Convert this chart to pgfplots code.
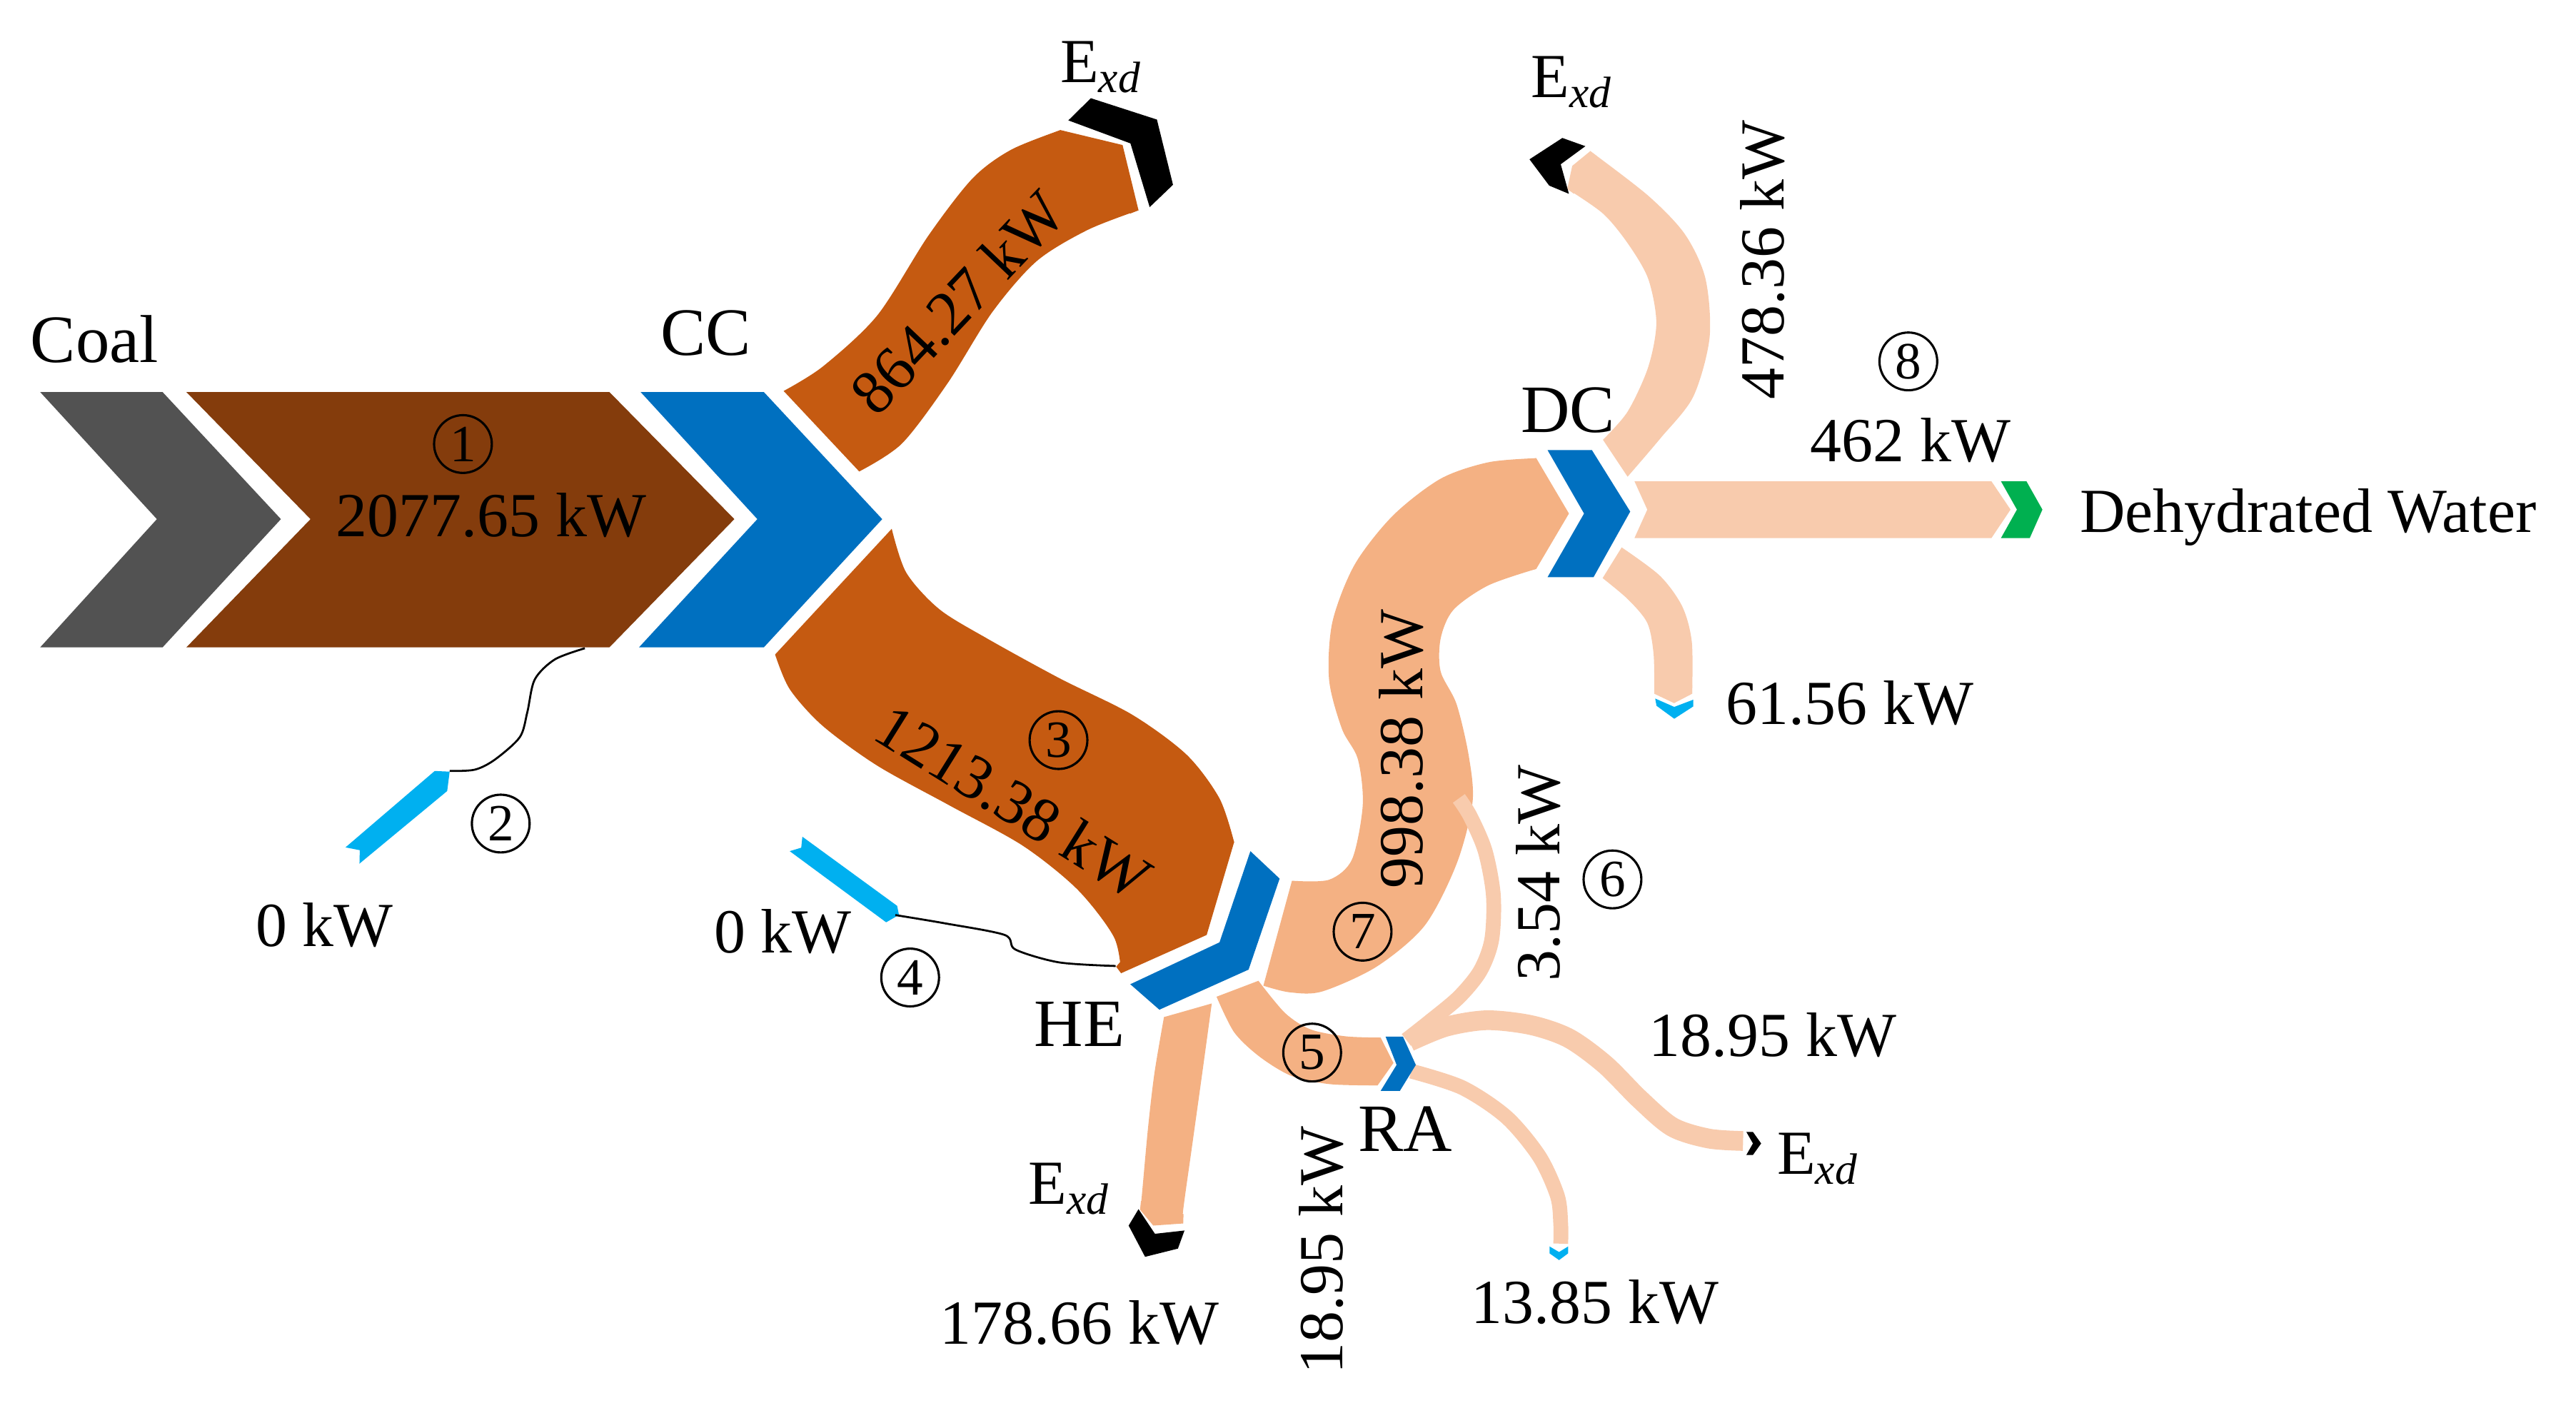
\documentclass[border=0pt]{standalone}
\usepackage{pgfplots}
\pgfplotsset{compat=1.18}
\usepgfplotslibrary{fillbetween}
\usepackage{fontspec}
\setmainfont{Liberation Serif}
\definecolor{cgray}{HTML}{525252}
\definecolor{cbrown}{HTML}{843C0C}
\definecolor{corange}{HTML}{C55A11}
\definecolor{cblue}{HTML}{0070C0}
\definecolor{cpeach}{HTML}{F4B183}
\definecolor{clpeach}{HTML}{F8CBAD}
\definecolor{clblue}{HTML}{00B0F0}
\definecolor{cgreen}{HTML}{00B050}
\tikzset{
 lab/.style={font=\fontsize{12.6}{15}\selectfont, inner sep=0pt, outer sep=0pt},
 nd/.style={font=\fontsize{13.6}{16}\selectfont, inner sep=0pt, outer sep=0pt},
 cn/.style={circle, draw, line width=0.45pt, minimum size=11.6pt, inner sep=0pt, font=\fontsize{10.5}{11}\selectfont},
}
\newcommand{\Exd}{E\textsubscript{\textit{xd}}}
\begin{document}
\begin{tikzpicture}
\begin{axis}[width=517.44pt,height=282.81pt,scale only axis,
  xmin=0,xmax=1568,ymin=0,ymax=857,y dir=reverse,
  axis lines=none,clip=false,no markers]
\addplot[draw=none] coordinates {(0,0) (1568,857)};

% ---- thin recirculation band 3.54 kW (under 998 band)
\addplot[clpeach,line width=2.97pt,smooth] coordinates {(856,633) (870,622) (888,607) (901,591) (908,572) (909,545) (904,518) (895,497) (888,486)};

% ---- 864.27 band
\addplot[draw=none,name path=a1,smooth] coordinates {(477,238) (501,223) (534,192) (565,143.6) (592,108.6) (615.4,91.2) (645.5,79.2)};
\addplot[draw=none,name path=a2,smooth] coordinates {(523,287) (549,270) (577,233) (604,190) (631,159) (662,140) (693,128)};
\addplot[fill=corange,draw=none] fill between[of=a1 and a2];
\addplot[fill=corange,draw=none] coordinates {(641,81) (645.5,79.2) (683.3,88.3) (693,128) (688,130)} -- cycle;

% ---- 1213.38 band
\addplot[draw=none,name path=b1,smooth] coordinates {(542.8,321.9) (551.6,348.5) (571.6,370.7) (600.4,388.4) (644.8,412.8) (689.1,435) (722.3,459.4) (742.3,486) (751.2,512.6)};
\addplot[draw=none,name path=b2,smooth] coordinates {(471.8,398.4) (480.7,419.5) (500.6,441.7) (533.9,466) (578.2,490.4) (622.6,514.8) (655.8,541.4) (678,570.3) (682.4,592.4)};
\addplot[fill=corange,draw=none] fill between[of=b1 and b2];
\addplot[fill=corange,draw=none] coordinates {(679.4,588.4) (682.4,592.4) (734.5,569.1) (751.2,512.6) (748.2,508.6)} -- cycle;

% ---- 998.38 band
\addplot[draw=none,name path=c1,smooth] coordinates {(786.4,536.1) (809,535.5) (823,523) (829.5,490) (826.5,462) (816.8,443.6) (809,413.7) (811,378.7) (824.5,343.8) (847.8,313.9) (876.9,291.4) (906,281.4) (935.1,278.9)};
\addplot[draw=none,name path=c2,smooth] coordinates {(769,600) (785,604) (804.8,603.5) (838.1,588.3) (867.2,563.4) (886.6,525.9) (896.3,488.5) (894,460) (886.6,428.6) (876.9,408.7) (876.9,388.7) (884.7,371.2) (906,356.3) (935.1,346.3)};
\addplot[fill=cpeach,draw=none] fill between[of=c1 and c2];
\addplot[fill=cpeach,draw=none] coordinates {(928,279.6) (935.1,278.9) (955,312.6) (935.1,346.3) (928,348)} -- cycle;

% ---- band 5 (HE -> RA)
\addplot[draw=none,name path=d1,smooth] coordinates {(766,597) (782.2,616.6) (797.8,626.6) (819.1,630.8) (840.4,631.6)};
\addplot[draw=none,name path=d2,smooth] coordinates {(740.5,606.7) (751.2,628.3) (766.7,643.2) (786.1,654.9) (809.4,659.9) (838.5,660.7)};
\addplot[fill=cpeach,draw=none] fill between[of=d1 and d2];
\addplot[fill=cpeach,draw=none] coordinates {(835,631.5) (840.4,631.6) (848.2,647) (838.5,660.7) (833,660.7)} -- cycle;

% ---- 178.66 band
\addplot[draw=none,name path=e1,smooth] coordinates {(708.5,619.1) (702.7,653.2) (698.8,686.5) (695,728) (694,736.4)};
\addplot[draw=none,name path=e2,smooth] coordinates {(737.6,610.8) (731.8,653.2) (726,694.8) (720.2,736.4) (720.2,744.7)};
\addplot[fill=cpeach,draw=none] fill between[of=e1 and e2];
\addplot[fill=cpeach,draw=none] coordinates {(694.5,731) (694,736.4) (702,746) (720.2,744.7) (720.4,739)} -- cycle;

% ---- 478.36 band
\addplot[draw=none,name path=f1,smooth] coordinates {(990.7,290.2) (1010.7,266.8) (1030.6,241.6) (1040.6,205.6) (1038.1,169.6) (1025.6,142.6) (1003.2,119.1) (968,92)};
\addplot[draw=none,name path=f2,smooth] coordinates {(975.7,267.7) (990.7,250.6) (1003.2,223.6) (1008.2,196.6) (1003.2,169.6) (990.7,148) (975.7,130) (954,115)};
\addplot[fill=clpeach,draw=none] fill between[of=f1 and f2];
\addplot[fill=clpeach,draw=none] coordinates {(972,95) (968,92) (957,101) (954,115) (958,118)} -- cycle;

% ---- 61.56 band
\addplot[draw=none,name path=g1,smooth] coordinates {(975.5,351.9) (991,364.9) (1002.7,379.2) (1006.5,397.9) (1007,422.3)};
\addplot[draw=none,name path=g2,smooth] coordinates {(987.1,333.2) (1010.4,350.5) (1024,369.2) (1029.8,390.7) (1030,422.3)};
\addplot[fill=clpeach,draw=none] fill between[of=g1 and g2];
\addplot[fill=clpeach,draw=none] coordinates {(1007,417) (1007,422.3) (1019,428) (1030,422.3) (1030,417)} -- cycle;

% ---- 462 band
\addplot[fill=clpeach,draw=none] coordinates {(994.9,293) (1212.2,293) (1223.8,310.2) (1212.2,327.5) (994.9,327.5) (1002.7,310.2)} -- cycle;

% ---- RA outputs
\addplot[clpeach,line width=3.96pt,smooth] coordinates {(858,634) (880,625) (905,621) (932,624) (955,632) (977,648) (998,669) (1018,686) (1040,693) (1061,694.5)};
\addplot[clpeach,line width=2.97pt,smooth] coordinates {(859,652) (890,662) (917,680) (937,704) (948,728) (950,745) (950,757)};

% ---- chevrons / nodes
\addplot[fill=cgray,draw=none] coordinates {(24.5,238.7) (99,238.7) (171,316) (99,394) (24.5,394) (95.5,316)} -- cycle;
\addplot[fill=cbrown,draw=none] coordinates {(113.5,238.7) (371,238.7) (447,316) (371,394) (113.5,394) (189,316)} -- cycle;
\addplot[fill=cblue,draw=none] coordinates {(390,238.7) (465,238.7) (537,316) (465,394) (389,394) (461,316)} -- cycle;
\addplot[fill=black,draw=none] coordinates {(650.3,73.3) (664,59.8) (704.2,72.8) (714,112.5) (699.8,126.1) (688.1,87.3)} -- cycle;
\addplot[fill=cblue,draw=none] coordinates {(688,599.1) (742.3,573.6) (761.1,518.1) (778.9,534.8) (760,590.2) (705.7,614.6)} -- cycle;
\addplot[fill=cblue,draw=none] coordinates {(942,274) (969,274) (992.3,311.4) (970,351.3) (942,351.3) (964.2,312.6)} -- cycle;
\addplot[fill=cblue,draw=none] coordinates {(843.4,631) (854,631) (861.8,648.2) (852.1,664) (840.4,664) (850.1,648.2)} -- cycle;
\addplot[fill=black,draw=none] coordinates {(687,746) (693,736) (703,751) (721,749) (717,760) (697,765)} -- cycle;
\addplot[fill=black,draw=none] coordinates {(931,97) (951,84) (965,89) (950,100) (955,118) (943,113)} -- cycle;
\addplot[fill=black,draw=none] coordinates {(1063,689) (1067,689) (1072,696) (1067,703) (1063,703) (1067,696)} -- cycle;
\addplot[fill=cgreen,draw=none] coordinates {(1218,293) (1233.5,293) (1243.2,310.2) (1235.5,327.5) (1218,327.5) (1227.7,310.2)} -- cycle;
\addplot[fill=clblue,draw=none] coordinates {(1007.5,425.2) (1019.1,430.3) (1030.7,425.9) (1030.7,430) (1019.1,437.5) (1008.3,429.6)} -- cycle;
\addplot[fill=clblue,draw=none] coordinates {(943.2,758.7) (949,762.1) (954.5,758.7) (954.5,762.9) (949,767) (943.2,762.9)} -- cycle;
\addplot[fill=clblue,draw=none] coordinates {(264.6,469.3) (273.7,469.7) (272.2,481.5) (218.8,525.7) (219,517.5) (210.3,515.8)} -- cycle;
\addplot[fill=clblue,draw=none] coordinates {(488.4,509.3) (546.1,551.4) (547.2,556.9) (539.4,561.4) (480.7,518.1) (487.7,516)} -- cycle;

% ---- thin connector lines
\addplot[black,line width=0.4pt,smooth] coordinates {(356,394.6) (337.7,401.4) (325.5,413.6) (321,433.4) (316.4,448.7) (301.2,462.4) (289,468.5) (273.7,469.3)};
\addplot[black,line width=0.4pt,smooth] coordinates {(545,557) (575,562) (611.5,569.1) (618.1,578) (644.7,585.8) (679.1,588)};

% ---- labels
\node[nd,anchor=base] at (57.5,220.5) {Coal};
\node[nd,anchor=base] at (429.6,216.2) {CC};
\node[nd,anchor=base] at (954.5,263) {DC};
\node[nd,anchor=base] at (657,636.7) {HE};
\node[nd,anchor=base] at (855.5,700.6) {RA};
\node[lab,anchor=base west] at (1266,324) {Dehydrated Water};
\node[lab,anchor=base] at (299,326.8) {2077.65 kW};
\node[lab,rotate=46.5] at (583,184) {864.27 kW};
\node[lab,rotate=-32] at (617,488) {1213.38 kW};
\node[lab,anchor=base] at (197.5,576) {0 kW};
\node[lab,anchor=base] at (476.5,579.8) {0 kW};
\node[lab,rotate=90] at (853,456) {998.38 kW};
\node[lab,rotate=90] at (936.5,531.4) {3.54 kW};
\node[lab,rotate=90] at (1073,158.3) {478.36 kW};
\node[lab,anchor=base] at (1162.8,281.2) {462 kW};
\node[lab,anchor=base] at (1126,441) {61.56 kW};
\node[lab,anchor=base] at (1079,643) {18.95 kW};
\node[lab,rotate=90] at (804.4,761) {18.95 kW};
\node[lab,anchor=base] at (970.8,805.4) {13.85 kW};
\node[lab,anchor=base] at (657,818) {178.66 kW};
\node[lab,anchor=base west] at (645.5,50.4) {\Exd};
\node[lab,anchor=base west] at (932,59.5) {\Exd};
\node[lab,anchor=base west] at (626,733) {\Exd};
\node[lab,anchor=base west] at (1081.7,714.7) {\Exd};
\node[cn] at (281.8,270.3) {1};
\node[cn] at (304.8,501.3) {2};
\node[cn] at (644.3,450.5) {3};
\node[cn] at (554,595) {4};
\node[cn] at (798.7,640.7) {5};
\node[cn] at (981.5,535.3) {6};
\node[cn] at (829.4,567.1) {7};
\node[cn] at (1161.6,220) {8};
\end{axis}
\end{tikzpicture}
\end{document}
